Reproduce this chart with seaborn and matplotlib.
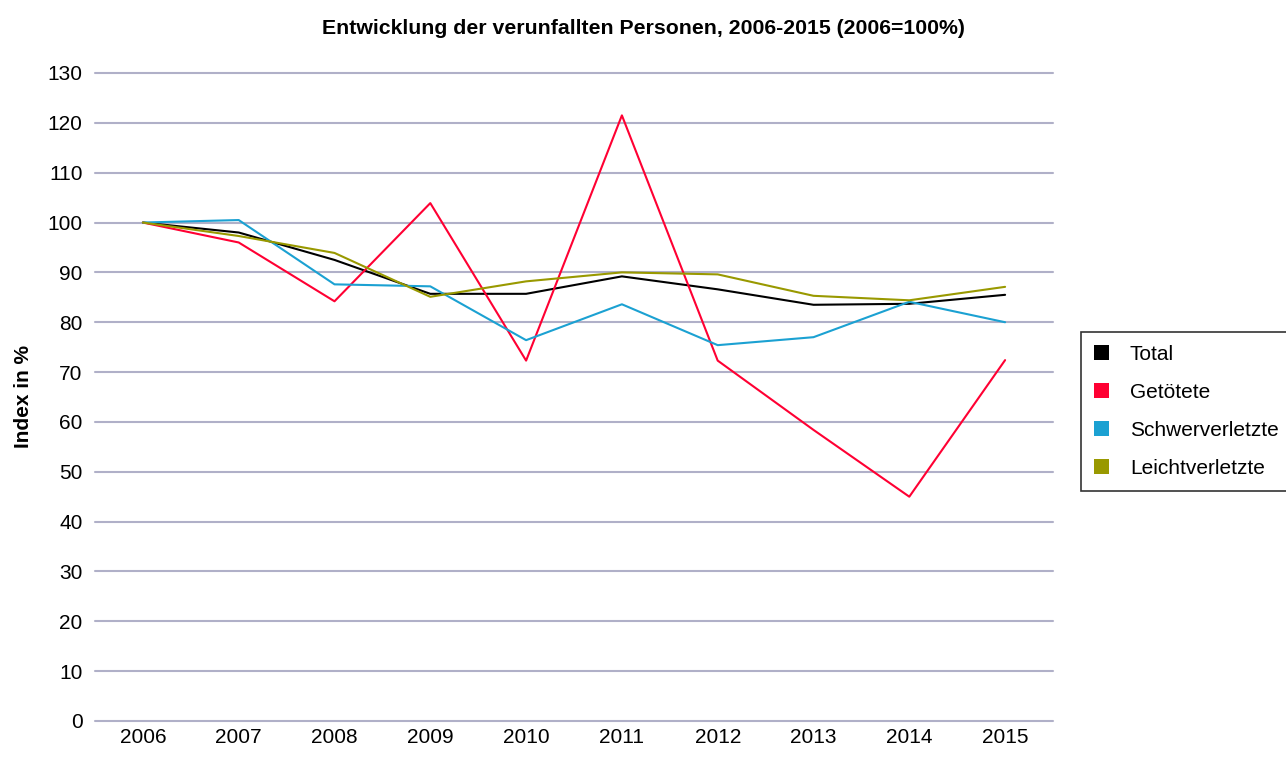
import pandas as pd
import seaborn as sns
import matplotlib.pyplot as plt
from matplotlib.patches import Patch

years = ['2006', '2007', '2008', '2009', '2010', '2011', '2012', '2013', '2014', '2015']
total = [100, 98.0, 92.5, 85.7, 85.7, 89.2, 86.6, 83.5, 83.7, 85.5]
getoetete = [100, 96.0, 84.2, 103.9, 72.3, 121.5, 72.3, 58.4, 45.0, 72.4]
schwerverletzte = [100, 100.5, 87.6, 87.2, 76.4, 83.6, 75.4, 77.0, 84.1, 80.0]
leichtverletzte = [100, 97.3, 93.9, 85.1, 88.2, 90.0, 89.6, 85.3, 84.4, 87.1]

series = {
    'Total': total,
    'Getötete': getoetete,
    'Schwerverletzte': schwerverletzte,
    'Leichtverletzte': leichtverletzte,
}
colors = {
    'Total': '#000000',
    'Getötete': '#FF0033',
    'Schwerverletzte': '#1BA1D2',
    'Leichtverletzte': '#999900',
}

df = pd.DataFrame([
    {'Jahr': i, 'Gruppe': name, 'Index': v}
    for name, vals in series.items() for i, v in enumerate(vals)
])

sns.set_style('white')
plt.rcParams['font.family'] = ['Liberation Sans', 'DejaVu Sans']
plt.rcParams['text.color'] = 'black'
plt.rcParams['xtick.color'] = 'black'
plt.rcParams['ytick.color'] = 'black'
plt.rcParams['axes.labelcolor'] = 'black'

fig = plt.figure(figsize=(12.86, 7.57), dpi=100)
ax = fig.add_axes([95 / 1286, 36 / 757, 958 / 1286, 648 / 757])

sns.lineplot(data=df, x='Jahr', y='Index', hue='Gruppe', palette=colors,
             linewidth=1.5, legend=False, ax=ax, zorder=3)

ax.set_xlim(-0.5, 9.5)
ax.set_ylim(0, 130)
ax.set_yticks(range(0, 131, 10))
ax.set_xticks(range(len(years)))
ax.set_xticklabels(years)
ax.tick_params(axis='both', labelsize=15, length=0)
ax.tick_params(axis='y', pad=9)
ax.tick_params(axis='x', pad=5)
ax.yaxis.grid(True, color='#B0B0C8', linewidth=1.5)
for gl in ax.get_ygridlines():
    gl.set_clip_on(False)
ax.set_axisbelow(True)
for s in ax.spines.values():
    s.set_visible(False)

ax.set_xlabel('')
ax.set_ylabel('Index in %', fontsize=15, fontweight='bold', labelpad=10)
fig.text(0.5, 0.962, 'Entwicklung der verunfallten Personen, 2006-2015 (2006=100%)',
         ha='center', va='center', fontsize=15.3, fontweight='bold')

handles = [Patch(facecolor=colors[n], edgecolor='none', label=n) for n in series]
leg = fig.legend(handles=handles, loc='upper left',
                 bbox_to_anchor=(1081 / 1286, (757 - 332) / 757),
                 frameon=True, fancybox=False, fontsize=15,
                 handlelength=0.75, handleheight=0.75, handletextpad=1.0,
                 labelspacing=0.92, borderpad=0.6, borderaxespad=0)
leg.get_frame().set_edgecolor('black')
leg.get_frame().set_linewidth(1.2)

fig.savefig('out.png', dpi=100)
